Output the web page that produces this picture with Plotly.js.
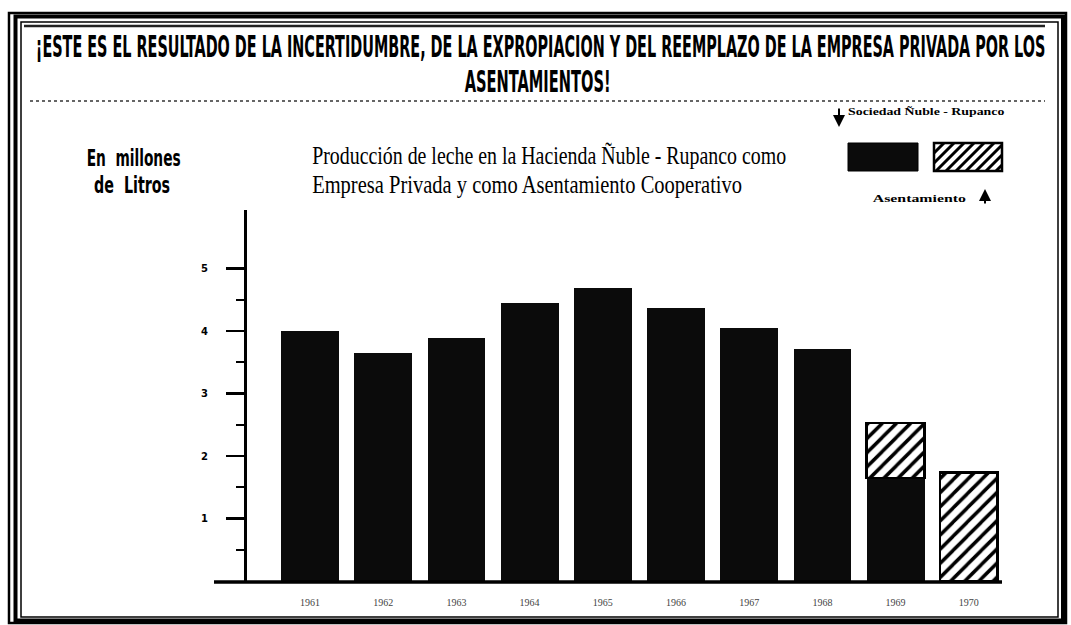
<!DOCTYPE html>
<html>
<head>
<meta charset="utf-8">
<script src="https://cdn.plot.ly/plotly-3.0.1.min.js"></script>
<style>
  html, body { margin: 0; padding: 0; background: #fff; }
  #chart { width: 1071px; height: 625px; }
</style>
</head>
<body>
<div id="chart"></div>
<script>
// ---- Data ----
const years = ['1961', '1962', '1963', '1964', '1965', '1966', '1967', '1968', '1969', '1970'];
const sociedadValues = [4.0, 3.65, 3.89, 4.45, 4.69, 4.37, 4.05, 3.71, 1.65, null];
const asentamientoValues = [null, null, null, null, null, null, null, null, 0.88, 1.74];
const yTickVals = [1, 2, 3, 4, 5];
const yTickText = ['1', '2', '3', '4', '5'];
const yMinorVals = [0.5, 1.5, 2.5, 3.5, 4.5];

const mainTitle1 = '¡ESTE ES EL RESULTADO DE LA INCERTIDUMBRE, DE LA EXPROPIACION Y DEL REEMPLAZO DE LA EMPRESA PRIVADA POR LOS';
const mainTitle2 = 'ASENTAMIENTOS!';
const subTitle1 = 'Producción de leche en la Hacienda Ñuble - Rupanco como';
const subTitle2 = 'Empresa Privada y como Asentamiento Cooperativo';
const unitLabel1 = 'En  millones';
const unitLabel2 = 'de  Litros';
const legendSociedad = 'Sociedad Ñuble - Rupanco';
const legendAsent = 'Asentamiento';

// ---- Layout geometry ----
const W = 1071, H = 625, L = 247, R = 68, T = 210, B = 44;
const pw = W - L - R, ph = H - T - B;
const fx = p => (p - L) / pw;
const fy = p => (H - B - p) / ph;

const condensed = 'DejaVu Sans Condensed, DejaVu Sans, sans-serif';
const serif = 'Liberation Serif, DejaVu Serif, serif';

const traces = [
  {
    type: 'bar', name: legendSociedad, x: years, y: sociedadValues, width: 0.79,
    marker: { color: '#0b0b0b', line: { width: 0 } },
    hoverinfo: 'x+y'
  },
  {
    type: 'bar', name: legendAsent, x: years, y: asentamientoValues, width: 0.79,
    marker: {
      color: '#ffffff',
      line: { color: '#000', width: 2.5 },
      pattern: { shape: '/', fgcolor: '#000', bgcolor: '#fff', size: 10, solidity: 0.35 }
    },
    hoverinfo: 'x+y'
  }
];

// hatched legend swatch built from diagonal segments
function hatchPath(x0, y0, x1, y1, step) {
  const h = y1 - y0;
  let d = '';
  for (let c = x0 - h; c < x1; c += step) {
    let sx = c, sy = y1, ex = c + h, ey = y0;
    if (sx < x0) { sy = y1 - (x0 - sx); sx = x0; }
    if (ex > x1) { ey = y0 + (ex - x1); ex = x1; }
    if (sy <= ey) continue;
    d += `M${fx(sx)},${fy(sy)} L${fx(ex)},${fy(ey)} `;
  }
  return d;
}

function rectPx(x0, y0, x1, y1, w, color, fill) {
  return { type: 'rect', xref: 'paper', yref: 'paper', x0: fx(x0), x1: fx(x1), y0: fy(y1), y1: fy(y0),
           line: { color: color || '#000', width: w }, fillcolor: fill || 'rgba(0,0,0,0)', layer: 'above' };
}
function linePx(x0, y0, x1, y1, w, color, dash) {
  return { type: 'line', xref: 'paper', yref: 'paper', x0: fx(x0), x1: fx(x1), y0: fy(y0), y1: fy(y1),
           line: { color: color || '#000', width: w, dash: dash || 'solid' }, layer: 'above' };
}

const shapes = [
  // frame
  rectPx(9, 13, 1066, 623, 2.5),
  rectPx(15.5, 16.5, 1063, 620.5, 4),
  rectPx(21, 22, 1058, 617, 1.5),
  // rules
  linePx(24, 26, 1045, 26, 2.5, '#222'),
  linePx(30, 101, 1045, 101, 1.5, '#333', 'dot'),
  // baseline
  linePx(214, 582, 1002, 582, 3.5),
  // legend swatches
  rectPx(848, 143, 918, 171, 1, '#000', '#0b0b0b'),
  rectPx(934, 143, 1002, 171, 2.5, '#000', '#fff'),
  { type: 'path', xref: 'paper', yref: 'paper', path: hatchPath(934, 143, 1002, 171, 10),
    line: { color: '#000', width: 3 }, layer: 'above' }
];

function txt(text, cx, cy, family, size) {
  return { xref: 'paper', yref: 'paper', x: fx(cx), y: fy(cy), xanchor: 'center', yanchor: 'middle',
           text: text, showarrow: false, font: { family: family, size: size, color: '#000' } };
}

// [annotation, target width in px (condensed look of the original type)]
const textSpecs = [
  [txt('<b>' + mainTitle1 + '</b>', 540, 46, condensed, 30), 1010],
  [txt('<b>' + mainTitle2 + '</b>', 537, 81, condensed, 30), 146],
  [txt(subTitle1, 549, 156, serif, 25), 474],
  [txt(subTitle2, 527, 184, serif, 25), 430],
  [txt('<b>' + unitLabel1 + '</b>', 133, 158, condensed, 23), 94],
  [txt('<b>' + unitLabel2 + '</b>', 132, 185, condensed, 23), 76],
  [txt('<b>' + legendSociedad + '</b>', 926, 111, serif, 11), 157],
  [txt('<b>' + legendAsent + '</b>', 919, 198, serif, 11), 94]
];

const annotations = textSpecs.map(s => s[0]).concat([
  // arrows
  { xref: 'paper', yref: 'paper', x: fx(839), y: fy(127), ax: 0, ay: -20, text: '', showarrow: true,
    arrowhead: 2, arrowsize: 1.2, arrowwidth: 2, arrowcolor: '#000' },
  { xref: 'paper', yref: 'paper', x: fx(985), y: fy(189), ax: 0, ay: 16, text: '', showarrow: true,
    arrowhead: 2, arrowsize: 1.2, arrowwidth: 2, arrowcolor: '#000' }
]);

const layout = {
  width: W, height: H,
  margin: { l: L, r: R, t: T, b: B, pad: 0 },
  paper_bgcolor: '#fff', plot_bgcolor: '#fff',
  barmode: 'stack', showlegend: false,
  xaxis: {
    type: 'category', range: [-0.861, 9.467], fixedrange: true,
    showgrid: false, zeroline: false, showline: false, ticks: '',
    tickfont: { family: serif, size: 10, color: '#444' }, ticklabelstandoff: 14
  },
  yaxis: {
    range: [0, 5.94], fixedrange: true,
    showgrid: false, zeroline: false,
    showline: true, linecolor: '#000', linewidth: 3,
    tickmode: 'array', tickvals: yTickVals, ticktext: yTickText,
    ticks: 'outside', ticklen: 18, tickwidth: 2.5, tickcolor: '#000',
    minor: { tickmode: 'array', tickvals: yMinorVals, ticks: 'outside', ticklen: 8, tickwidth: 2, tickcolor: '#000' },
    tickfont: { family: 'DejaVu Sans, sans-serif', size: 10, color: '#000', weight: 'bold' },
    ticklabelstandoff: 16
  },
  shapes: shapes,
  annotations: annotations
};

Plotly.newPlot('chart', traces, layout, { displayModeBar: false, staticPlot: true }).then(gd => {
  // squeeze text horizontally to mimic the condensed newspaper type
  const texts = gd.querySelectorAll('.annotation-text');
  textSpecs.forEach((s, i) => {
    const el = texts[i];
    if (!el) return;
    const bb = el.getBBox();
    if (!bb.width) return;
    const k = s[1] / bb.width;
    el.style.transformBox = 'fill-box';
    el.style.transformOrigin = 'center';
    el.style.transform = `scaleX(${k})`;
  });
});
</script>
</body>
</html>
